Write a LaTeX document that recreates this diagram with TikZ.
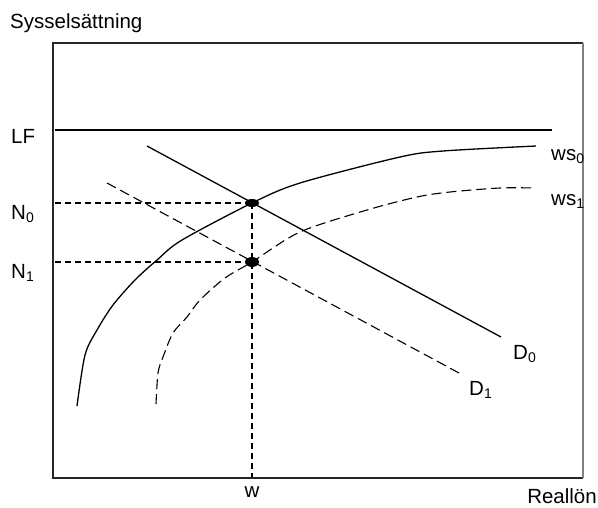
\documentclass[tikz,border=0pt]{standalone}
\usepackage{fontspec}
\setmainfont{Liberation Sans}
\usetikzlibrary{shapes.geometric}
\newcommand{\lbl}{\fontsize{20.5}{22}\selectfont}
\newcommand{\sbs}[1]{\raisebox{-3.5pt}{\fontsize{14}{14}\selectfont #1}}
\begin{document}
\begin{tikzpicture}[x=1pt,y=-1pt,
  txt/.style={inner sep=0pt,font=\lbl},
  curve/.style={line width=1.3pt,black},
  dcurve/.style={line width=1.1pt,black,dash pattern=on 10pt off 5pt},
  guide/.style={line width=1.6pt,black,dash pattern=on 6pt off 4pt},
  dot/.style={ellipse,fill=black,inner sep=0pt}]
\useasboundingbox (0,0) rectangle (598,507);
% frame
\coordinate (tl) at (53,43);
\coordinate (tr) at (583,43);
\coordinate (bl) at (53,478);
\coordinate (br) at (583,478);
\draw[line width=1.3pt,black!85] (tr) -- (tl) -- (bl) -- (br);
\draw[line width=1.3pt,gray] (tr) -- (br);
% labels
\node[txt,anchor=base west] (ylab) at (10,28) {Sysselsättning};
\node[txt,anchor=base east] (xlab) at (597,503) {Reallön};
\node[txt,anchor=base west] (lf) at (11,143) {LF};
\node[txt,anchor=base west] (n0) at (11,219) {N\sbs{0}};
\node[txt,anchor=base west] (n1) at (11,278) {N\sbs{1}};
\node[txt,anchor=base west] (ws0) at (551,160) {ws\sbs{0}};
\node[txt,anchor=base west] (ws1) at (551,205) {ws\sbs{1}};
\node[txt,anchor=base west] (d0) at (513,359) {D\sbs{0}};
\node[txt,anchor=base west] (d1) at (469,395) {D\sbs{1}};
\node[txt,anchor=base] (w) at (252,497) {w};
% LF line
\coordinate (lfa) at (55,130);
\coordinate (lfb) at (552,130);
\draw[curve] (lfa) -- (lfb);
% demand curves
\coordinate (d0a) at (147,146);
\coordinate (d0b) at (501,337);
\draw[curve] (d0a) -- (d0b);
\coordinate (d1a) at (107,183);
\coordinate (d1b) at (459,373);
\draw[dcurve] (d1a) -- (d1b);
% wage-setting curves
\draw[curve] plot[smooth,tension=0.5] coordinates {(77,406) (85,355) (97,330) (113,305) (135,280) (157,260) (182,240) (252,203) (300,183) (400,157) (443,151) (536,146)};
\draw[dcurve] plot[smooth,tension=0.5] coordinates {(156,404) (158,373) (163,357) (173,333) (187,317) (200,300) (225,278) (252,262) (300,232) (367,210) (417,197) (450,192) (500,188) (536,188)};
% equilibrium dots and guides
\coordinate (n0a) at (55,203);
\coordinate (n1a) at (55,262);
\coordinate (wb) at (252,477);
\node[dot,minimum width=14pt,minimum height=8pt] (e0) at (252,203) {};
\node[dot,minimum width=14pt,minimum height=10pt] (e1) at (252,262) {};
\draw[guide] (n0a) -- (e0.center);
\draw[guide] (n1a) -- (e1.center);
\draw[guide] (e0.center) -- (wb);
\end{tikzpicture}
\end{document}
